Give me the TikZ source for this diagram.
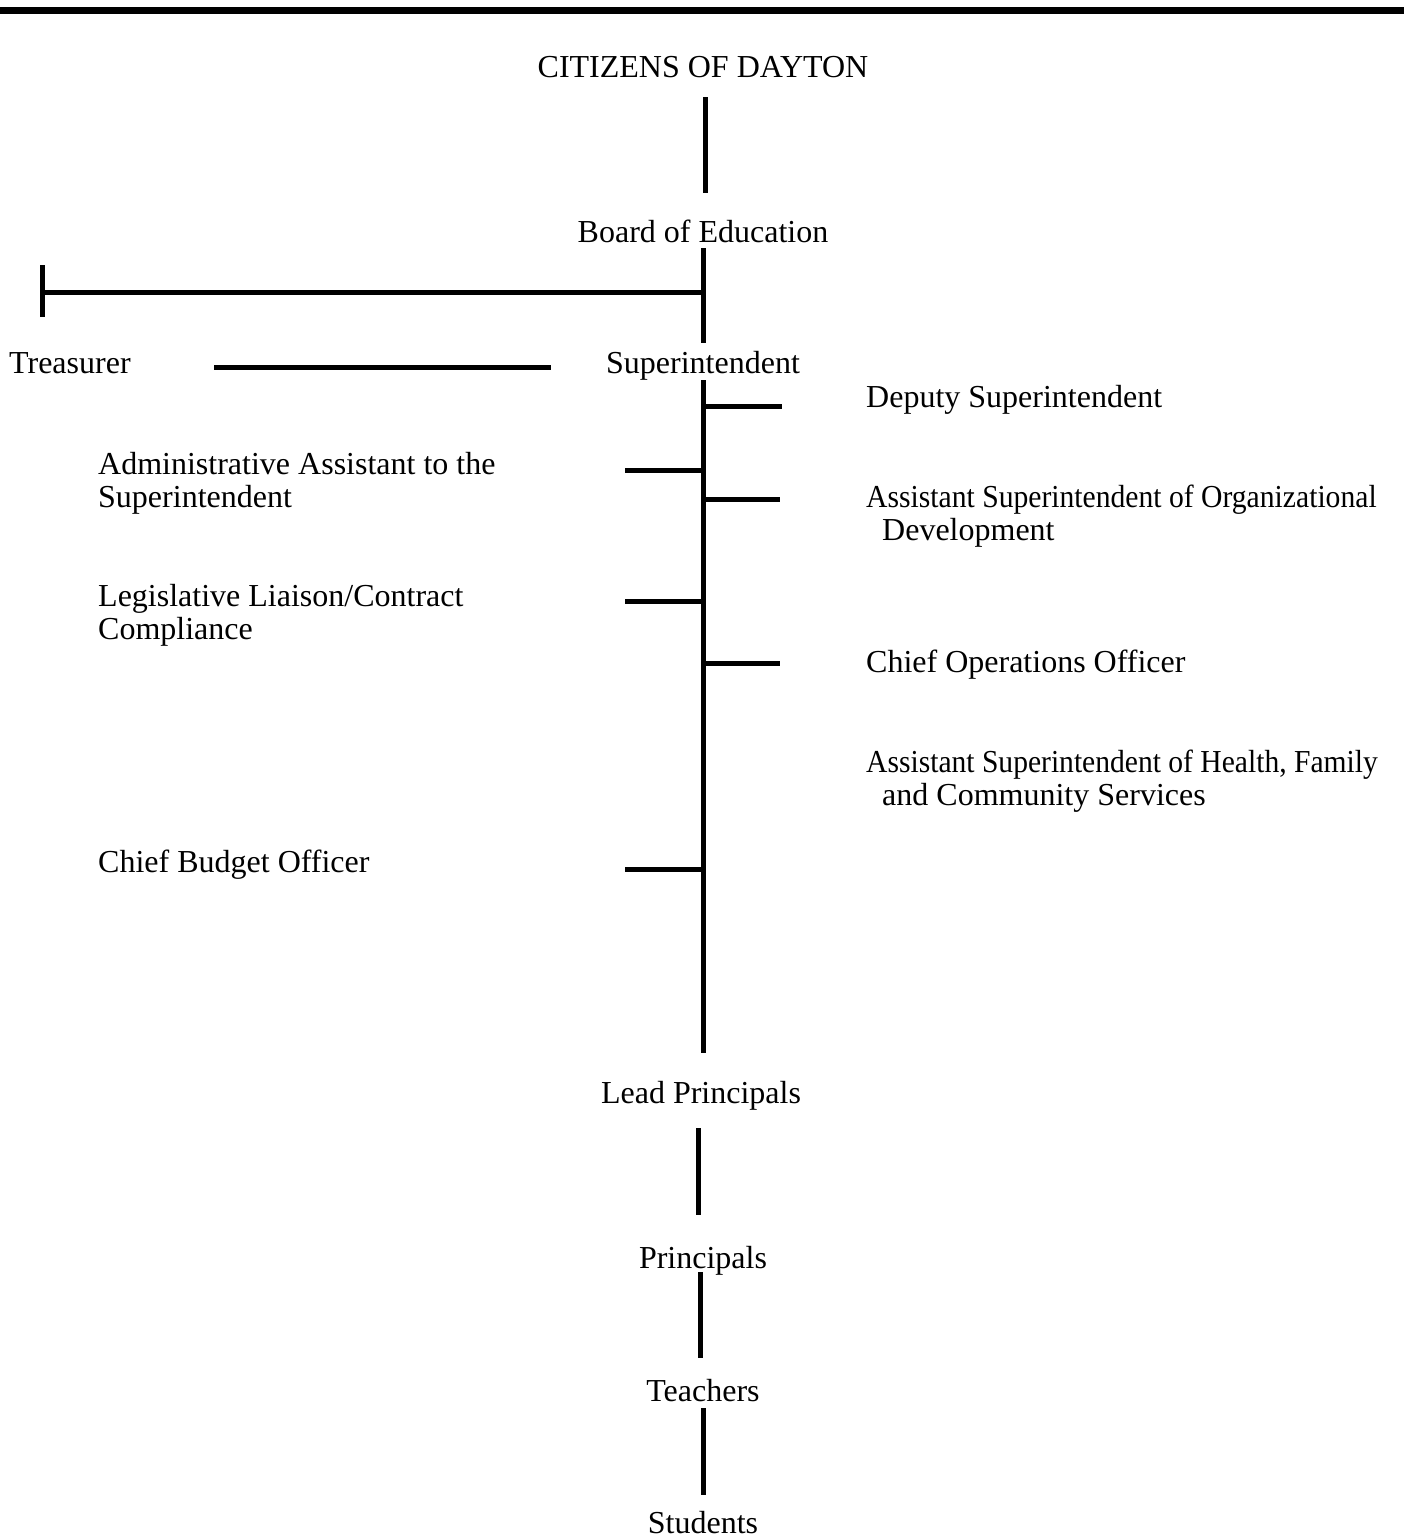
\documentclass[tikz,border=0pt]{standalone}
\usepackage{graphicx}
\usepackage{fontspec}
\setmainfont{Liberation Serif}
\begin{document}
\begin{tikzpicture}[x=1pt,y=-1pt,
  lbl/.style={inner sep=0pt,font=\fontsize{32}{33}\selectfont},
  lblL/.style={lbl,anchor=base west,align=left},
  lblC/.style={lbl,anchor=base},
  conn/.style={line width=5pt,line cap=butt}]
\useasboundingbox (0,0) rectangle (1423,1537);
\fill[black] (0,7) rectangle (1404,14);
% centre column
\node[lblC] (cit) at (703,77) {CITIZENS OF DAYTON};
\node[lblC] (board) at (703,242) {Board of Education};
\node[lblC] (sup) at (703,373) {Superintendent};
\node[lblC] (lead) at (701,1103) {Lead Principals};
\node[lblC] (prin) at (703,1268) {Principals};
\node[lblC] (teach) at (703,1401) {Teachers};
\node[lblC] (stud) at (703,1533) {Students};
\node[lblL] (treas) at (9,373) {Treasurer};
% left column (base anchor = last line)
\node[lblL] (admin) at (98,507) {Administrative Assistant to the\\Superintendent};
\node[lblL] (legis) at (98,639) {Legislative Liaison/Contract\\Compliance};
\node[lblL] (budget) at (98,872) {Chief Budget Officer};
% right column
\node[lblL] (deputy) at (866,407) {Deputy Superintendent};
\node[lblL] (orgdev) at (866,540) {\scalebox{0.926}[1]{Assistant Superintendent of Organizational}\\\hspace*{16pt}Development};
\node[lblL] (coo) at (866,672) {Chief Operations Officer};
\node[lblL] (health) at (866,805) {\scalebox{0.924}[1]{Assistant Superintendent of Health, Family}\\\hspace*{16pt}and Community Services};
% coordinates
\coordinate (c1) at (705,97);  \coordinate (c2) at (705,193);
\coordinate (b1) at (703,248); \coordinate (b2) at (703,343);
\coordinate (bh) at (703,292); \coordinate (tl) at (42,292);
\coordinate (tt) at (42,265);  \coordinate (tb) at (42,317);
\coordinate (ts) at (214,367); \coordinate (te) at (551,367);
\coordinate (m1) at (703,380); \coordinate (m2) at (703,1053);
\coordinate (r1) at (703,406); \coordinate (r1e) at (782,406);
\coordinate (r2) at (703,499); \coordinate (r2e) at (780,499);
\coordinate (r3) at (703,663); \coordinate (r3e) at (780,663);
\coordinate (l1) at (703,470); \coordinate (l1e) at (625,470);
\coordinate (l2) at (703,601); \coordinate (l2e) at (625,601);
\coordinate (l3) at (703,869); \coordinate (l3e) at (625,869);
\coordinate (p1) at (698,1128); \coordinate (p2) at (698,1215);
\coordinate (q1) at (700,1272); \coordinate (q2) at (700,1358);
\coordinate (s1) at (703,1408); \coordinate (s2) at (703,1495);
% connectors
\draw[conn] (c1) -- (c2);
\draw[conn] (b1) -- (b2);
\draw[conn] (bh) -- (tl);
\draw[conn] (tt) -- (tb);
\draw[conn] (ts) -- (te);
\draw[conn] (m1) -- (m2);
\draw[conn] (r1) -- (r1e);
\draw[conn] (r2) -- (r2e);
\draw[conn] (r3) -- (r3e);
\draw[conn] (l1) -- (l1e);
\draw[conn] (l2) -- (l2e);
\draw[conn] (l3) -- (l3e);
\draw[conn] (p1) -- (p2);
\draw[conn] (q1) -- (q2);
\draw[conn] (s1) -- (s2);
\end{tikzpicture}
\end{document}
